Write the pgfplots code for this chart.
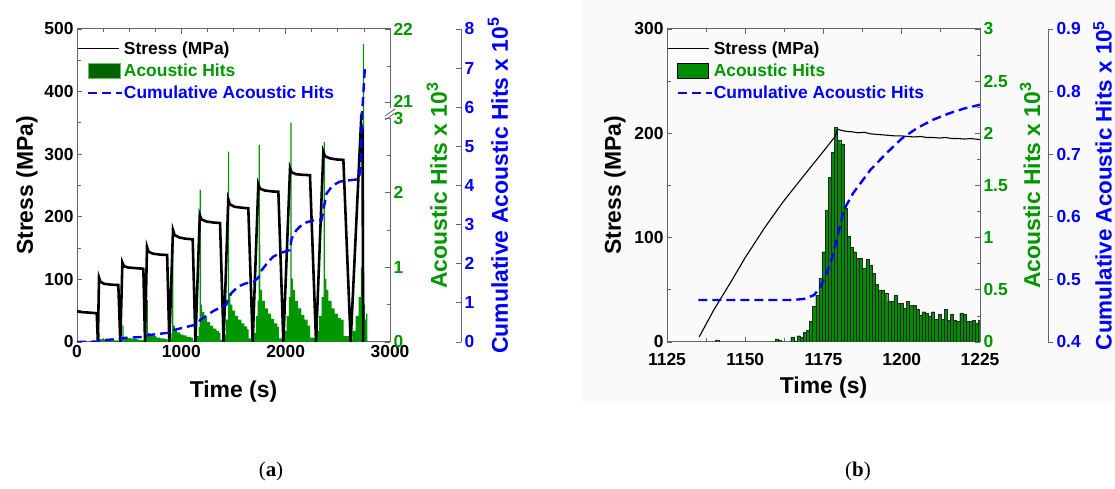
\documentclass[border=0pt]{standalone}
\usepackage{fontspec}
\setmainfont{Liberation Sans}
\newfontfamily\seriffont{Liberation Serif}
\usepackage{pgfplots}
\pgfplotsset{compat=1.18}
\usepackage{pgfplotstable}
\definecolor{hitgreen}{RGB}{0,150,0}
\definecolor{barsgreen}{RGB}{0,140,0}
\definecolor{darkgreen}{RGB}{0,100,0}
\definecolor{axgray}{RGB}{100,100,100}
\definecolor{cumblue}{RGB}{0,0,255}

\pgfplotstableread{
t s
0 50
10 48.5
60 47.5
130 46.8
189 46
200 0
211 103
225 96
260 93
330 91.5
396 91
415 0
435 127
450 121
490 119
560 118
636 117
652 0
671 152
686 144
730 141
800 139.5
864 139
885 0
920 179
935 171
980 167
1040 165
1109 164
1135 0
1177 203
1192 196
1240 192.5
1300 191
1371 190
1405 0
1450 228
1465 220
1510 216
1580 214.5
1642 213.5
1684 0
1738 252
1753 245
1800 242
1870 240.5
1930 240
1978 0
2042 278
2057 271
2100 268
2170 267
2233 266.5
2291 0
2361 304
2376 297
2420 293.5
2490 291.5
2553 291
2623 0
2722 350
2728 345
2736 340
2743 0
}\stressA

\pgfplotstableread{
t h
0 0
200 0.02
205 0.12
217 0.04
250 0.03
300 0.02
350 0.02
396 0
420 0.02
428 0.06
436 0.22
448 0.07
480 0.05
530 0.04
580 0.03
636 0.01
652 0
655 0.03
662 0.08
668 0.56
680 0.12
700 0.1
730 0.08
760 0.06
800 0.05
840 0.04
869 0.01
890 0
895 0.05
905 0.12
912 1.45
924 0.22
940 0.16
960 0.13
990 0.1
1020 0.09
1050 0.07
1090 0.06
1110 0.02
1135 0.01
1150 0.08
1165 0.2
1176 2.04
1188 0.5
1200 0.4
1220 0.33
1245 0.27
1275 0.22
1305 0.18
1335 0.15
1360 0.12
1375 0.03
1405 0.02
1415 0.1
1430 0.3
1446 2.55
1458 0.65
1470 0.5
1490 0.42
1515 0.35
1545 0.3
1575 0.25
1605 0.21
1630 0.17
1645 0.05
1684 0.02
1695 0.12
1715 0.35
1730 0.55
1740 2.64
1752 1.3
1758 0.7
1775 0.55
1800 0.45
1830 0.38
1860 0.31
1890 0.25
1920 0.2
1935 0.05
1978 0.02
1990 0.15
2010 0.35
2030 0.6
2044 2.94
2056 0.85
2070 0.7
2090 0.55
2120 0.45
2150 0.36
2180 0.3
2210 0.22
2235 0.06
2291 0.02
2300 0.15
2320 0.35
2345 0.6
2364 2.68
2376 0.85
2390 0.7
2410 0.55
2440 0.45
2470 0.38
2500 0.32
2530 0.3
2555 0.08
2623 0.03
2640 0.15
2670 0.35
2700 0.6
2720 1.0
2735 0.85
2741 21.8
2751 0.5
2762 0.3
2772 0.38
2782 0
3000 0
}\hitsA

\pgfplotstableread{
t c
0 0
190 0.01
220 0.04
415 0.08
440 0.1
636 0.13
668 0.17
890 0.24
920 0.3
1147 0.45
1180 0.56
1230 0.65
1300 0.78
1371 0.88
1430 0.95
1450 1.1
1480 1.25
1546 1.42
1620 1.5
1690 1.53
1740 1.65
1760 1.8
1818 2.0
1880 2.18
1946 2.27
2040 2.35
2058 2.65
2100 2.85
2169 3.03
2250 3.1
2345 3.12
2370 3.5
2393 3.8
2450 4.0
2521 4.1
2600 4.13
2700 4.16
2722 4.5
2729 5.68
2760 7.04
}\cumA

\pgfplotstableread{
t s
1135.3 5
1140 31
1145.7 59
1150 81
1156.3 110
1162 134
1167 153
1171 168
1175.3 184
1178.7 197
1179.5 204
1180.5 203
1182 202
1184 201.5
1186 200.5
1188 201
1190 199.5
1192 199
1194 198.5
1196 198
1198 197.5
1200 197.5
1202 197
1204 196.5
1206 197
1208 196
1210 196
1212 195.5
1214 196
1216 195
1218 195
1220 194.5
1222 195
1225 194
}\stressB

\pgfplotstableread{
t h
1140.5 0.02
1141.5 0
1159.5 0.03
1160.5 0.02
1161.5 0
1164.5 0.05
1165.5 0.01
1166.5 0.06
1167.5 0.05
1168.5 0.09
1169.5 0.11
1170.5 0.2
1171.5 0.34
1172.5 0.45
1173.5 0.61
1174.5 0.865
1175.5 1.26
1176.5 1.58
1177.5 1.82
1178.5 2.06
1179.5 1.93
1180.5 1.90
1181.5 1.28
1182.5 1.01
1183.5 0.91
1184.5 0.865
1185.5 0.80
1186.5 0.80
1187.5 0.71
1188.5 0.79
1189.5 0.74
1190.5 0.66
1191.5 0.55
1192.5 0.50
1193.5 0.50
1194.5 0.47
1195.5 0.39
1196.5 0.39
1197.5 0.45
1198.5 0.37
1199.5 0.37
1200.5 0.32
1201.5 0.39
1202.5 0.35
1203.5 0.35
1204.5 0.31
1205.5 0.26
1206.5 0.29
1207.5 0.28
1208.5 0.25
1209.5 0.29
1210.5 0.22
1211.5 0.27
1212.5 0.22
1213.5 0.31
1214.5 0.21
1215.5 0.27
1216.5 0.21
1217.5 0.20
1218.5 0.28
1219.5 0.27
1220.5 0.20
1221.5 0.20
1222.5 0.21
1223.5 0.18
1224.5 0.21
1225.5 0
}\hitsB

\pgfplotstableread{
t c
1135 0.467
1150 0.467
1165 0.467
1169 0.469
1172 0.475
1174 0.488
1176 0.51
1178 0.538
1180 0.58
1181.5 0.611
1184.5 0.638
1190 0.675
1195 0.701
1200 0.725
1205 0.742
1210 0.755
1215 0.765
1220 0.773
1225 0.779
}\cumB

\pgfplotsset{
  base/.style={scale only axis, width=313bp, height=313bp,
    axis line style={axgray, line width=1pt},
    every tick/.style={axgray, line width=0.8pt},
    major tick length=5bp, minor tick length=3.5bp, tick align=inside,
    scaled ticks=false,
    /pgf/number format/assume math mode=true,
    /pgf/number format/1000 sep={},
    ticklabel style={font=\fontsize{17.5}{20}\selectfont\bfseries},
    label style={font=\fontsize{23}{26}\selectfont\bfseries}},
  legstyle/.style={legend style={at={(axis description cs:0,1)}, anchor=north west,
    yshift=-11.5bp, draw=none, fill=none, inner sep=0pt, outer sep=0pt,
    row sep=6bp, column sep=0bp, nodes={inner sep=1bp},
    font=\fontsize{17.5}{20}\selectfont\bfseries}, legend cell align=left},
  legA1/.style={legend image code/.code={\path[draw=none,fill=none] (0bp,-7.5bp) rectangle (45bp,7.5bp);
    \draw[black, line width=1.5pt, solid] (0bp,0bp) -- (41bp,0bp);}},
  legA2/.style={legend image code/.code={\path[draw=none,fill=none] (0bp,-7.5bp) rectangle (45bp,7.5bp);
    \draw[fill=darkgreen, draw=hitgreen!60, line width=0.8pt, solid] (11bp,-7.5bp) rectangle (43bp,7.5bp);}},
  legA3/.style={legend image code/.code={\path[draw=none,fill=none] (0bp,-7.5bp) rectangle (45bp,7.5bp);
    \draw[cumblue, line width=2.4pt, dash pattern=on 9bp off 5bp] (10bp,0bp) -- (44bp,0bp);}},
  legB1/.style={legend image code/.code={\path[draw=none,fill=none] (0bp,-7.5bp) rectangle (45bp,7.5bp);
    \draw[black, line width=1.2pt, solid] (0bp,0bp) -- (41bp,0bp);}},
  legB2/.style={legend image code/.code={\path[draw=none,fill=none] (0bp,-7.5bp) rectangle (45bp,7.5bp);
    \draw[fill=barsgreen, draw=black, line width=0.6pt, solid] (10bp,-7.5bp) rectangle (41bp,7.5bp);}},
  scaleax/.style={base, xmin=0, xmax=1, axis x line=none, axis y line*=right},
}

\begin{document}
\begin{tikzpicture}[x=1bp,y=1bp]
\useasboundingbox (0,0) rectangle (1115,489);
\fill[black!2] (583,86) rectangle (1115,489);

% ---------------- panel (a)
\begin{axis}[base, legstyle, at={(77bp,147bp)}, anchor=south west,
  xmin=0, xmax=3000, ymin=0, ymax=500,
  xtick={0,1000,2000,3000}, minor x tick num=3,
  ytick={0,100,200,300,400,500}, minor y tick num=1,
  xtick pos=both, ytick pos=left,
  xlabel={Time (s)}, ylabel={Stress (MPa)},
  xlabel style={at={(axis description cs:0.5,-0.159)}, anchor=center},
  ylabel style={at={(axis description cs:-0.16,0.5)}, anchor=center}]
\addplot[const plot mark left, fill=hitgreen, draw=none, forget plot]
  table[x=t, y expr={ifthenelse(\thisrow{h}<=3, \thisrow{h}*119.2, 382+(\thisrow{h}-21)*118)}] {\hitsA} \closedcycle;
\addplot[black, line width=2.6pt, forget plot] table[x=t, y=s] {\stressA};
\addplot[cumblue, line width=2.4pt, dash pattern=on 9bp off 5bp, forget plot]
  table[x=t, y expr=\thisrow{c}*62.5] {\cumA};
\addlegendimage{legA1}
\addlegendentry{Stress (MPa)}
\addlegendimage{legA2}
\addlegendentry{\textcolor{hitgreen}{Acoustic Hits}}
\addlegendimage{legA3}
\addlegendentry{\textcolor{cumblue}{Cumulative Acoustic Hits}}
\end{axis}

\begin{axis}[scaleax, at={(77bp,147bp)}, anchor=south west,
  ymin=0, ymax=500,
  ytick={0,119.2,238.4,357.6,382,500},
  yticklabels={0,1,2,\raisebox{-1.5bp}{3},\raisebox{2bp}{21},22},
  extra y ticks={59.6,178.8,298,441}, extra y tick labels={},
  extra y tick style={major tick length=3.5bp},
  yticklabel style={text=hitgreen},
  ylabel={Acoustic Hits x 10\textsuperscript{3}},
  ylabel style={text=hitgreen, at={(axis description cs:1.15,0.5)}, anchor=center}]
\end{axis}

\begin{axis}[scaleax, width=384bp, at={(77bp,147bp)}, anchor=south west,
  ymin=0, ymax=8, ytick={0,1,2,3,4,5,6,7,8},
  yticklabel style={text=cumblue},
  ylabel={Cumulative Acoustic Hits x 10\textsuperscript{5}},
  ylabel style={text=cumblue, at={(axis description cs:1.0964,0.5)}, anchor=center}]
\end{axis}

% axis break
\fill[white] (386,371) rectangle (395,381);
\draw[axgray, line width=0.8pt] (385,369) -- (395,376);
\draw[axgray, line width=0.8pt] (385,373) -- (395,380);

% ---------------- panel (b)
\begin{axis}[base, legstyle, at={(667bp,147bp)}, anchor=south west,
  xmin=1125, xmax=1225, ymin=0, ymax=300,
  xtick={1125,1150,1175,1200,1225}, minor x tick num=1,
  ytick={0,100,200,300}, minor y tick num=1,
  xtick pos=both, ytick pos=left,
  xticklabel style={yshift=-8bp},
  xlabel={Time (s)}, ylabel={Stress (MPa)},
  xlabel style={at={(axis description cs:0.5,-0.147)}, anchor=center},
  ylabel style={at={(axis description cs:-0.166,0.5)}, anchor=center}]
\addplot[ybar interval, fill=barsgreen, draw=black!85, line width=0.3pt, forget plot]
  table[x=t, y expr=\thisrow{h}*100] {\hitsB};
\addplot[black, line width=1.1pt, forget plot] table[x=t, y=s] {\stressB};
\addplot[cumblue, line width=2.4pt, dash pattern=on 9bp off 5bp, forget plot]
  table[x=t, y expr=(\thisrow{c}-0.4)*600] {\cumB};
\addlegendimage{legB1}
\addlegendentry{Stress (MPa)}
\addlegendimage{legB2}
\addlegendentry{\textcolor{hitgreen}{Acoustic Hits}}
\addlegendimage{legA3}
\addlegendentry{\textcolor{cumblue}{Cumulative Acoustic Hits}}
\end{axis}

\begin{axis}[scaleax, at={(667bp,147bp)}, anchor=south west,
  ymin=0, ymax=3, ytick={0,0.5,1,1.5,2,2.5,3}, minor y tick num=1,
  yticklabel style={text=hitgreen},
  ylabel={Acoustic Hits x 10\textsuperscript{3}},
  ylabel style={text=hitgreen, at={(axis description cs:1.16,0.5)}, anchor=center}]
\end{axis}

\begin{axis}[scaleax, width=381bp, at={(667bp,147bp)}, anchor=south west,
  tick align=outside,
  ymin=0.4, ymax=0.9, ytick={0.4,0.5,0.6,0.7,0.8,0.9},
  yticklabel style={text=cumblue, /pgf/number format/.cd, fixed, fixed zerofill, precision=1},
  ylabel={Cumulative Acoustic Hits x 10\textsuperscript{5}},
  ylabel style={text=cumblue, font=\fontsize{22.5}{25}\selectfont\bfseries, at={(axis description cs:1.1430,0.5)}, anchor=center}]
\end{axis}

\node[font=\seriffont\fontsize{21}{24}\selectfont] at (271,18) {(\textbf{a})};
\node[font=\seriffont\fontsize{21}{24}\selectfont] at (858,18) {(\textbf{b})};
\end{tikzpicture}
\end{document}
